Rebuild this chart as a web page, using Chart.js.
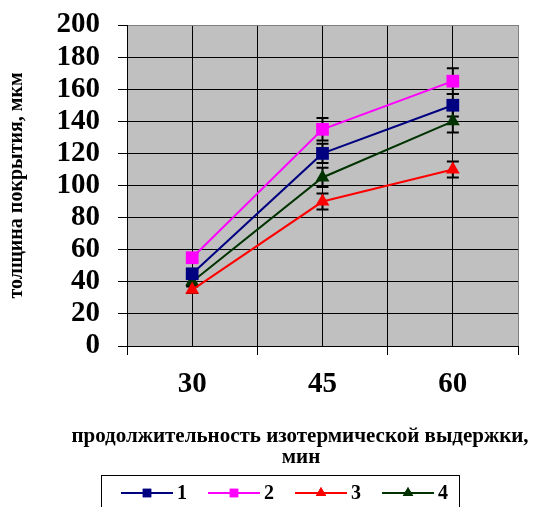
<!DOCTYPE html>
<html>
<head>
<meta charset="utf-8">
<script src="https://cdn.jsdelivr.net/npm/chart.js@4/dist/chart.umd.min.js"></script>
<style>
  html, body { margin: 0; padding: 0; background: #fff; }
  #wrap { width: 536px; height: 507px; }
</style>
</head>
<body>
<div id="wrap"><canvas id="chart"></canvas></div>
<script>
// Data
const times = ['30', '45', '60'];
const seriesNames = ['1', '2', '3', '4'];
const series1 = [45, 120, 150];
const series2 = [55, 135, 165];
const series3 = [35, 90, 110];
const series4 = [40, 105, 140];
const err1 = [2, 6, 7];
const err2 = [2, 7, 8];
const err3 = [2, 5, 5];
const err4 = [2, 6, 7];
const yTicks = [0, 20, 40, 60, 80, 100, 120, 140, 160, 180, 200];

const FONT = '"Liberation Serif", "Times New Roman", serif';

function pts(arr) {
    return arr.map((v, i) => ({ x: i + 0.5, y: v }));
}

const styles = [
    { color: '#000080', point: 'rect', r: 9 },
    { color: '#FF00FF', point: 'rect', r: 9 },
    { color: '#FF0000', point: 'triangle', r: 8 },
    { color: '#003300', point: 'triangle', r: 8 }
];
const allSeries = [series1, series2, series3, series4];
const allErr = [err1, err2, err3, err4];

// grey plot background
const plotBg = {
    id: 'plotBg',
    beforeDraw(chart) {
        const { ctx, chartArea: a } = chart;
        ctx.save();
        ctx.fillStyle = '#C0C0C0';
        ctx.fillRect(a.left, a.top, a.width, a.height);
        ctx.restore();
    }
};

// error bars, drawn under the markers
const errBars = {
    id: 'errBars',
    beforeDatasetsDraw(chart) {
        const { ctx, scales: { x, y } } = chart;
        ctx.save();
        ctx.strokeStyle = '#000';
        ctx.lineWidth = 2;
        allSeries.forEach((s, si) => {
            s.forEach((v, i) => {
                const px = x.getPixelForValue(i + 0.5);
                const top = y.getPixelForValue(v + allErr[si][i]);
                const bot = y.getPixelForValue(v - allErr[si][i]);
                ctx.beginPath();
                ctx.moveTo(px, top); ctx.lineTo(px, bot);
                ctx.moveTo(px - 6, top); ctx.lineTo(px + 6, top);
                ctx.moveTo(px - 6, bot); ctx.lineTo(px + 6, bot);
                ctx.stroke();
            });
        });
        ctx.restore();
    }
};

// x axis title and boxed legend at the bottom
const bottomText = {
    id: 'bottomText',
    afterDraw(chart) {
        const { ctx } = chart;
        ctx.save();
        ctx.fillStyle = '#000';
        ctx.font = 'bold 21px ' + FONT;
        ctx.textAlign = 'center';
        ctx.textBaseline = 'middle';
        ctx.fillText('продолжительность изотермической выдержки,', 300, 437);
        ctx.fillText('мин', 301, 458);

        // legend box
        ctx.strokeStyle = '#000';
        ctx.lineWidth = 1;
        ctx.strokeRect(101.5, 475.5, 358, 40);
        chart.data.datasets.forEach((ds, i) => {
            const x0 = 121 + i * 87;
            const yy = 493;
            ctx.strokeStyle = ds.borderColor;
            ctx.lineWidth = 2;
            ctx.beginPath();
            ctx.moveTo(x0, yy); ctx.lineTo(x0 + 52, yy);
            ctx.stroke();
            ctx.fillStyle = ds.borderColor;
            Chart.helpers.drawPoint(ctx, { pointStyle: ds.pointStyle, radius: 6, borderWidth: 0 }, x0 + 26, yy);
            ctx.fill();
            ctx.fillStyle = '#000';
            ctx.font = 'bold 20px ' + FONT;
            ctx.textAlign = 'left';
            ctx.fillText(ds.label, x0 + 56, yy + 1);
        });
        ctx.restore();
    }
};

new Chart(document.getElementById('chart'), {
    type: 'line',
    data: {
        datasets: allSeries.map((s, i) => ({
            label: seriesNames[i],
            data: pts(s),
            borderColor: styles[i].color,
            backgroundColor: styles[i].color,
            pointBackgroundColor: styles[i].color,
            pointBorderColor: styles[i].color,
            pointBorderWidth: 0,
            pointStyle: styles[i].point,
            pointRadius: styles[i].r,
            borderWidth: 2,
            tension: 0,
            fill: false
        }))
    },
    options: {
        responsive: true,
        maintainAspectRatio: false,
        animation: false,
        layout: { padding: { left: 0, right: 18, top: 25, bottom: 36 } },
        plugins: {
            legend: { display: false },
            tooltip: { enabled: false }
        },
        scales: {
            x: {
                type: 'linear',
                min: 0,
                max: 3,
                afterBuildTicks(scale) {
                    const t = [];
                    for (let v = 0; v <= 3; v += 0.5) t.push({ value: v });
                    scale.ticks = t;
                },
                afterFit(scale) { scale.height = 125; },
                ticks: {
                    autoSkip: false,
                    maxRotation: 0,
                    padding: 12,
                    color: '#000',
                    font: { family: FONT, size: 29, weight: 'bold' },
                    callback: (v) => Number.isInteger(v) ? '' : times[Math.floor(v)]
                },
                grid: {
                    color: (c) => c.tick && c.tick.value === 3 ? '#808080' : '#000',
                    lineWidth: 1,
                    tickLength: 9,
                    tickColor: (c) => c.tick && Number.isInteger(c.tick.value) ? '#000' : 'rgba(0,0,0,0)'
                },
                border: { color: '#000', width: 1 }
            },
            y: {
                min: 0,
                max: 200,
                afterBuildTicks(scale) {
                    scale.ticks = yTicks.map(v => ({ value: v }));
                },
                afterFit(scale) {
                    scale.width = 127;
                    scale.paddingTop = 0;
                    scale.paddingBottom = 0;
                },
                ticks: {
                    autoSkip: false,
                    padding: 18,
                    color: '#000',
                    font: { family: FONT, size: 29, weight: 'bold', lineHeight: 1 }
                },
                grid: {
                    color: (c) => c.tick && c.tick.value === 200 ? '#808080' : '#000',
                    lineWidth: 1,
                    tickLength: 9,
                    tickColor: '#000'
                },
                border: { color: '#000', width: 1 },
                title: {
                    display: true,
                    text: 'толщина покрытия, мкм',
                    color: '#000',
                    padding: { top: 5, bottom: 0 },
                    font: { family: FONT, size: 20, weight: 'bold' }
                }
            }
        }
    },
    plugins: [plotBg, errBars, bottomText]
});
</script>
</body>
</html>
